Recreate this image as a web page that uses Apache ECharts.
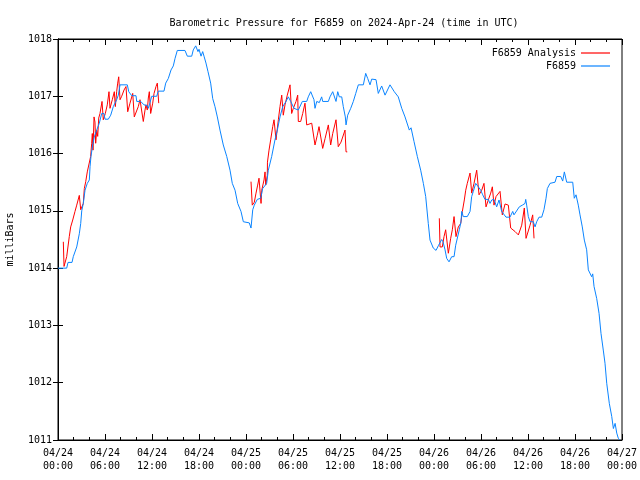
<!DOCTYPE html>
<html>
<head>
<meta charset="utf-8">
<script src="https://cdn.jsdelivr.net/npm/echarts@6/dist/echarts.min.js"></script>
<style>html,body{margin:0;padding:0;background:#fff}#c{width:640px;height:480px}</style>
</head>
<body>
<div id="c"></div>
<script>
// Time axis in hours since 2024-04-24 00:00 UTC
var tickLabels = ["04/24\n00:00","04/24\n06:00","04/24\n12:00","04/24\n18:00","04/25\n00:00","04/25\n06:00","04/25\n12:00","04/25\n18:00","04/26\n00:00","04/26\n06:00","04/26\n12:00","04/26\n18:00","04/27\n00:00"];

var blueHours = [0,1.11,1.28,1.79,1.95,2.39,2.72,2.90,3.03,3.23,3.45,3.74,4.00,4.09,4.21,4.43,4.63,4.94,5.27,5.58,5.87,6.00,6.42,6.73,7.06,7.49,7.70,7.92,8.85,9.03,9.41,9.96,10.05,10.56,10.98,11.40,11.53,11.75,11.96,12.60,12.80,13.53,13.75,14.08,14.43,14.72,14.94,15.23,16.21,16.51,17.07,17.27,17.58,17.87,18.0,18.26,18.47,18.64,18.89,19.15,19.49,19.75,20.04,20.34,20.68,21.10,21.54,21.96,22.25,22.60,22.94,23.36,23.66,24.42,24.64,24.86,25.06,25.44,25.88,26.13,26.64,26.85,27.28,27.70,28.00,28.34,28.69,29.11,29.40,29.71,30.13,30.68,31.19,31.75,31.95,32.26,32.68,32.81,33.03,33.36,33.66,33.79,34.51,34.72,35.07,35.49,35.71,35.91,36.22,36.42,36.68,36.77,36.98,37.37,37.70,38.01,38.34,38.98,39.28,39.54,39.83,40.05,40.60,40.89,41.32,41.75,42.38,42.93,43.44,43.88,44.30,44.85,45.07,45.45,45.87,46.30,46.64,46.94,47.27,47.49,47.91,48.26,48.55,48.98,49.15,49.41,49.62,49.92,50.26,50.56,50.77,51.23,51.45,51.54,51.74,52.25,52.60,52.81,53.02,53.32,53.66,53.96,54.22,54.51,54.93,55.15,55.37,55.66,56.00,56.30,56.64,57.19,57.70,58.05,58.21,58.89,59.28,59.62,59.71,59.83,60.04,60.26,60.68,60.90,61.11,61.41,61.75,62.04,62.30,62.47,62.81,63.45,63.67,64.18,64.43,64.64,64.94,65.71,65.91,66.13,66.42,66.64,66.93,67.19,67.49,67.70,68.13,68.26,68.43,68.77,69.07,69.32,69.61,69.83,70.05,70.38,70.69,70.90,71.12,71.33,71.53,71.75];
var blueValues = [1014.0,1014.0,1014.1,1014.1,1014.2,1014.37,1014.6,1014.78,1015.0,1015.13,1015.36,1015.48,1015.54,1015.77,1015.95,1016.15,1016.29,1016.41,1016.53,1016.70,1016.70,1016.6,1016.6,1016.67,1016.82,1016.94,1017.02,1017.2,1017.2,1017.08,1017.01,1017.01,1016.91,1016.91,1016.85,1016.84,1016.79,1016.89,1017.0,1017.0,1017.09,1017.09,1017.23,1017.31,1017.46,1017.53,1017.66,1017.8,1017.8,1017.70,1017.70,1017.81,1017.88,1017.78,1017.82,1017.70,1017.78,1017.70,1017.58,1017.43,1017.23,1016.96,1016.82,1016.64,1016.41,1016.15,1015.95,1015.71,1015.48,1015.36,1015.13,1014.99,1014.81,1014.79,1014.7,1015.02,1015.10,1015.2,1015.22,1015.39,1015.48,1015.71,1015.95,1016.24,1016.41,1016.64,1016.82,1016.91,1016.99,1016.91,1016.79,1016.76,1016.91,1016.91,1016.99,1017.08,1016.94,1016.79,1016.91,1016.89,1016.99,1016.91,1016.91,1016.99,1017.08,1016.91,1017.08,1016.99,1016.99,1016.82,1016.64,1016.5,1016.67,1016.79,1016.91,1017.05,1017.2,1017.2,1017.40,1017.31,1017.2,1017.30,1017.29,1017.05,1017.18,1017.02,1017.2,1017.08,1016.99,1016.79,1016.64,1016.41,1016.45,1016.21,1015.95,1015.71,1015.48,1015.25,1014.78,1014.49,1014.35,1014.31,1014.39,1014.5,1014.46,1014.32,1014.17,1014.11,1014.2,1014.2,1014.40,1014.67,1014.81,1014.99,1014.90,1014.90,1014.99,1015.25,1015.34,1015.48,1015.42,1015.36,1015.28,1015.2,1015.2,1015.13,1015.19,1015.2,1015.07,1015.19,1014.99,1014.89,1014.89,1014.99,1014.93,1015.07,1015.10,1015.13,1015.2,1015.10,1014.90,1014.81,1014.81,1014.72,1014.81,1014.89,1014.89,1015.02,1015.22,1015.39,1015.48,1015.50,1015.6,1015.6,1015.52,1015.68,1015.50,1015.50,1015.22,1015.28,1015.10,1014.93,1014.72,1014.49,1014.32,1013.97,1013.85,1013.90,1013.68,1013.47,1013.21,1012.86,1012.57,1012.34,1011.99,1011.64,1011.41,1011.20,1011.29,1011.12,1011.03,1011.0];

// Analysis series: three runs separated by null gaps
var redHours = [0.68,0.77,0.98,1.11,1.44,1.62,1.88,2.17,2.39,2.72,2.90,3.23,3.36,3.54,3.74,3.96,4.17,4.30,4.38,4.47,4.60,4.72,4.81,4.94,5.07,5.20,5.36,5.62,5.78,6.04,6.29,6.51,6.64,6.93,7.19,7.32,7.49,7.62,7.75,7.92,8.13,8.43,8.68,8.90,9.19,9.54,9.74,9.96,10.25,10.47,10.89,11.11,11.23,11.40,11.53,11.66,11.83,12.09,12.26,12.51,12.68,12.86,
  18.0,
  24.64,24.80,25.06,25.28,25.49,25.66,25.92,26.01,26.30,26.43,26.52,26.72,26.74,26.94,27.15,27.41,27.58,27.83,28.13,28.34,28.56,28.76,28.98,29.27,29.62,29.83,30.04,30.38,30.60,30.68,30.98,31.24,31.53,31.75,32.39,32.59,32.81,33.10,33.32,33.54,33.79,34.09,34.51,34.81,35.07,35.49,35.78,36.13,36.64,36.77,36.93,
  42.0,
  48.68,48.77,49.06,49.28,49.49,49.83,49.96,50.13,50.34,50.56,50.81,51.10,51.41,51.62,51.87,52.05,52.25,52.60,52.81,53.11,53.45,53.66,53.75,54.09,54.38,54.64,54.93,55.24,55.45,55.66,55.92,56.43,56.72,57.07,57.49,57.79,58.34,58.77,59.20,59.53,59.75,59.92,60.26,60.60,60.77];
var redValues = [1014.46,1014.03,1014.03,1014.2,1014.55,1014.72,1014.84,1014.99,1015.10,1015.27,1015.02,1015.13,1015.39,1015.51,1015.68,1015.68,1015.95,1016.18,1016.35,1016.06,1016.64,1016.55,1016.18,1016.41,1016.30,1016.62,1016.70,1016.91,1016.59,1016.70,1016.85,1017.08,1016.79,1016.94,1017.08,1016.82,1017.08,1017.23,1017.34,1016.94,1017.0,1017.11,1017.17,1016.73,1016.88,1017.05,1016.64,1016.64,1016.82,1016.94,1016.56,1016.76,1016.85,1016.76,1016.97,1017.08,1016.70,1016.88,1017.05,1017.17,1017.23,1016.88,
  null,
  1015.51,1015.10,1015.15,1015.31,1015.45,1015.57,1015.13,1015.36,1015.54,1015.68,1015.45,1015.62,1015.85,1016.06,1016.24,1016.47,1016.59,1016.24,1016.59,1016.82,1017.02,1016.67,1016.85,1017.02,1017.2,1016.70,1016.79,1016.91,1017.02,1016.56,1016.56,1016.70,1016.88,1016.5,1016.53,1016.56,1016.15,1016.32,1016.47,1016.5,1016.09,1016.26,1016.5,1016.15,1016.35,1016.59,1016.12,1016.20,1016.41,1016.03,1016.03,
  null,
  1014.87,1014.37,1014.37,1014.55,1014.67,1014.26,1014.37,1014.52,1014.67,1014.90,1014.55,1014.72,1014.78,1014.99,1015.19,1015.36,1015.48,1015.66,1015.31,1015.48,1015.71,1015.74,1015.28,1015.36,1015.48,1015.07,1015.19,1015.31,1015.42,1015.10,1015.25,1015.34,1014.93,1015.12,1015.10,1014.70,1014.64,1014.58,1014.75,1015.05,1014.52,1014.52,1014.75,1014.93,1014.52];

function zip(xs, ys) {
  return xs.map(function (x, i) { return [x, ys[i] === null ? '-' : ys[i]]; });
}

var FONT = '"DejaVu Sans Mono", "Liberation Mono", monospace';
var chart = echarts.init(document.getElementById('c'), null, { renderer: 'canvas' });
chart.setOption({
  animation: false,
  backgroundColor: '#ffffff',
  title: {
    text: 'Barometric Pressure for F6859 on 2024-Apr-24 (time in UTC)',
    left: 339, top: 13, textAlign: 'center',
    textStyle: { fontFamily: FONT, fontSize: 10, fontWeight: 'normal', color: '#000' }
  },
  legend: [
    { data: ['F6859 Analysis'], right: 25, top: 43, align: 'right', icon: 'rect', itemWidth: 29, itemHeight: 1.2, itemGap: 6,
      textStyle: { fontFamily: FONT, fontSize: 10, color: '#000' } },
    { data: ['F6859'], right: 25, top: 56, align: 'right', icon: 'rect', itemWidth: 29, itemHeight: 1.2, itemGap: 6,
      textStyle: { fontFamily: FONT, fontSize: 10, color: '#000' } }
  ],
  grid: { left: 58, right: 18, top: 39, bottom: 40, containLabel: false, outerBoundsMode: 'none',
    show: true, borderColor: '#000', borderWidth: 1, backgroundColor: 'transparent' },
  xAxis: [
    { type: 'value', min: 0, max: 72, interval: 6, position: 'bottom',
      axisLine: { show: true, lineStyle: { color: '#000', width: 1 } },
      axisTick: { show: true, inside: true, length: 6, lineStyle: { color: '#000' } },
      minorTick: { show: true, splitNumber: 3, length: 3, lineStyle: { color: '#000' } },
      splitLine: { show: false },
      axisLabel: { fontFamily: FONT, fontSize: 10, color: '#000', margin: 7, lineHeight: 13,
        showMinLabel: true, showMaxLabel: true, hideOverlap: false,
        formatter: function (v) { return tickLabels[Math.round(v / 6)]; } } },
    { type: 'value', min: 0, max: 72, interval: 6, position: 'top',
      axisLine: { show: true, lineStyle: { color: '#000', width: 1 } },
      axisTick: { show: true, inside: true, length: 6, lineStyle: { color: '#000' } },
      minorTick: { show: true, splitNumber: 3, length: 3, lineStyle: { color: '#000' } },
      splitLine: { show: false }, axisLabel: { show: false } }
  ],
  yAxis: [
    { type: 'value', min: 1011, max: 1018, interval: 1, position: 'left',
      name: 'milliBars', nameLocation: 'middle', nameRotate: 90, nameGap: 43,
      nameTextStyle: { fontFamily: FONT, fontSize: 10, color: '#000' },
      axisLine: { show: true, lineStyle: { color: '#000', width: 1 } },
      axisTick: { show: true, inside: true, length: 5, lineStyle: { color: '#000' } },
      splitLine: { show: false },
      axisLabel: { fontFamily: FONT, fontSize: 10, color: '#000', margin: 6,
        formatter: function (v) { return String(v); } } },
    { type: 'value', min: 1011, max: 1018, interval: 1, position: 'right',
      axisLine: { show: true, lineStyle: { color: '#000', width: 1 } },
      axisTick: { show: true, inside: true, length: 5, lineStyle: { color: '#000' } },
      splitLine: { show: false }, axisLabel: { show: false } }
  ],
  series: [
    { name: 'F6859 Analysis', type: 'line', xAxisIndex: 0, yAxisIndex: 0, data: zip(redHours, redValues),
      showSymbol: false, symbol: 'none', connectNulls: false,
      lineStyle: { color: '#ff0000', width: 1 }, itemStyle: { color: '#ff0000' } },
    { name: 'F6859', type: 'line', xAxisIndex: 0, yAxisIndex: 0, data: zip(blueHours, blueValues),
      showSymbol: false, symbol: 'none',
      lineStyle: { color: '#0a84ff', width: 1 }, itemStyle: { color: '#0a84ff' } }
  ]
});
</script>
</body>
</html>
